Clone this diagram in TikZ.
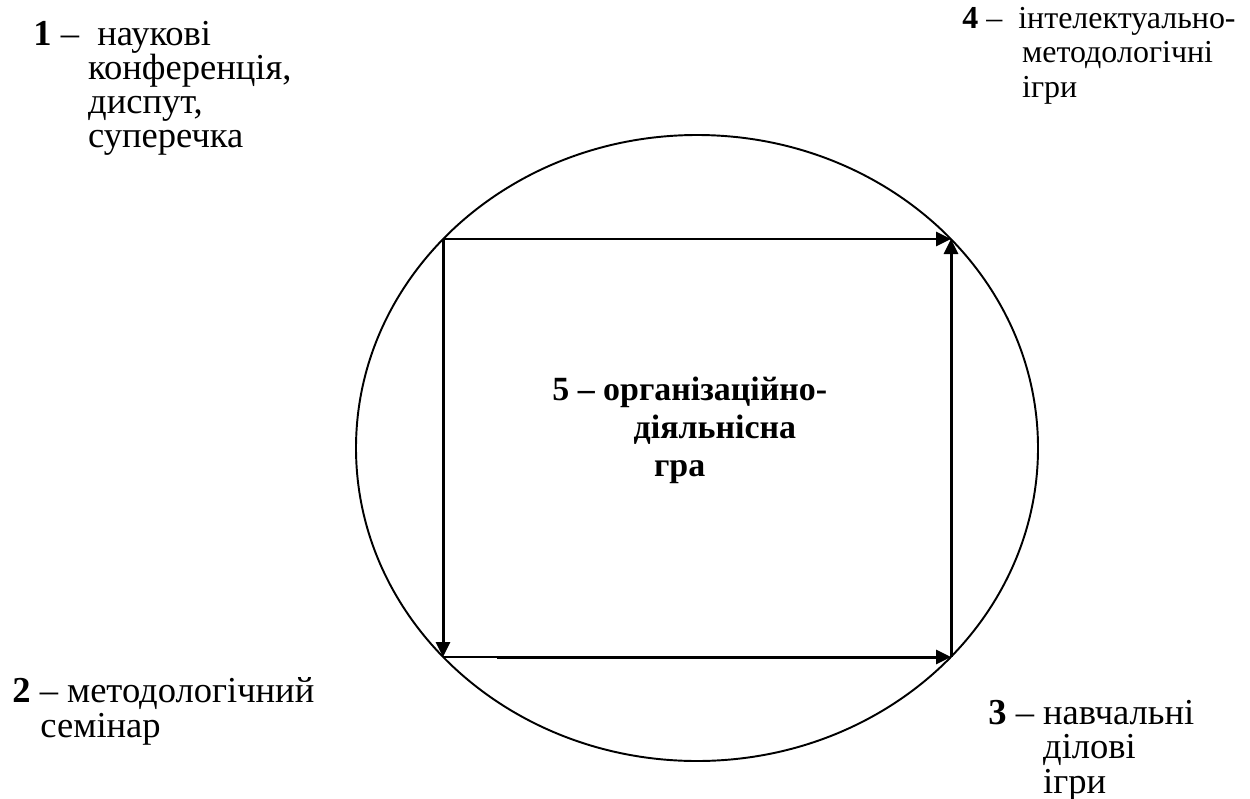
\documentclass[tikz,border=0pt]{standalone}
\usepackage{fontspec}
\setmainfont{Liberation Serif}
\usetikzlibrary{arrows.meta}

\begin{document}
\begin{tikzpicture}[x=0.02cm,y=-0.02cm,
lbl/.style={anchor=base west,inner sep=0pt,align=left,
  font=\fontsize{20.8pt}{19.4pt}\selectfont},
smalllbl/.style={lbl,font=\fontsize{18.2pt}{19.4pt}\selectfont},
mainlbl/.style={lbl,font=\fontsize{19.3pt}{21.6pt}\selectfont\bfseries},
edge/.style={line width=1.7pt,-{Triangle[length=0.3cm,width=0.28cm]}}]
\par
\useasboundingbox (0,0) rectangle (1250,798);
\clip (0,0) rectangle (1250,798);
\draw[line width=1.1pt] (697,448) ellipse [x radius=341,y radius=313];
\coordinate (tl) at (443,239); \coordinate (tr) at (951,239);
\coordinate (bl) at (443,657); \coordinate (br) at (951,657);
\coordinate (bm) at (497,657);
\draw[edge] (tl) -- (tr);
\draw[edge] (br) -- (tr);
\draw[edge] (tl) -- (bl);
\draw[line width=0.8pt] (bl) -- (bm);
\draw[edge] (bm) -- (br);
\node[lbl] (conf) at (33,147.6) {\textbf{1} –\hspace{0.5em}наукові\\
\hspace*{1.5em}конференція,\\ \hspace*{1.5em}диспут,\\ \hspace*{1.5em}суперечка};
\node[smalllbl] (intel) at (962,97) {\textbf{4} –\hspace{0.5em}інтелектуально-\\
\hspace*{1.87em}методологічні\\ \hspace*{1.87em}ігри};
\node[lbl] (semin) at (12,737) {\textbf{2} – методологічний\\ \hspace*{0.77em}семінар};
\node[lbl] (dilovi) at (988,793) {\textbf{3} – навчальні\\ \hspace*{1.5em}ділові\\
\hspace*{1.5em}ігри};
\node[mainlbl] (org) at (552,476) {5 – організаційно-\\ \hspace*{2.4em}діяльнісна\\
\hspace*{3em}гра};
\par
\end{tikzpicture}
\end{document}
